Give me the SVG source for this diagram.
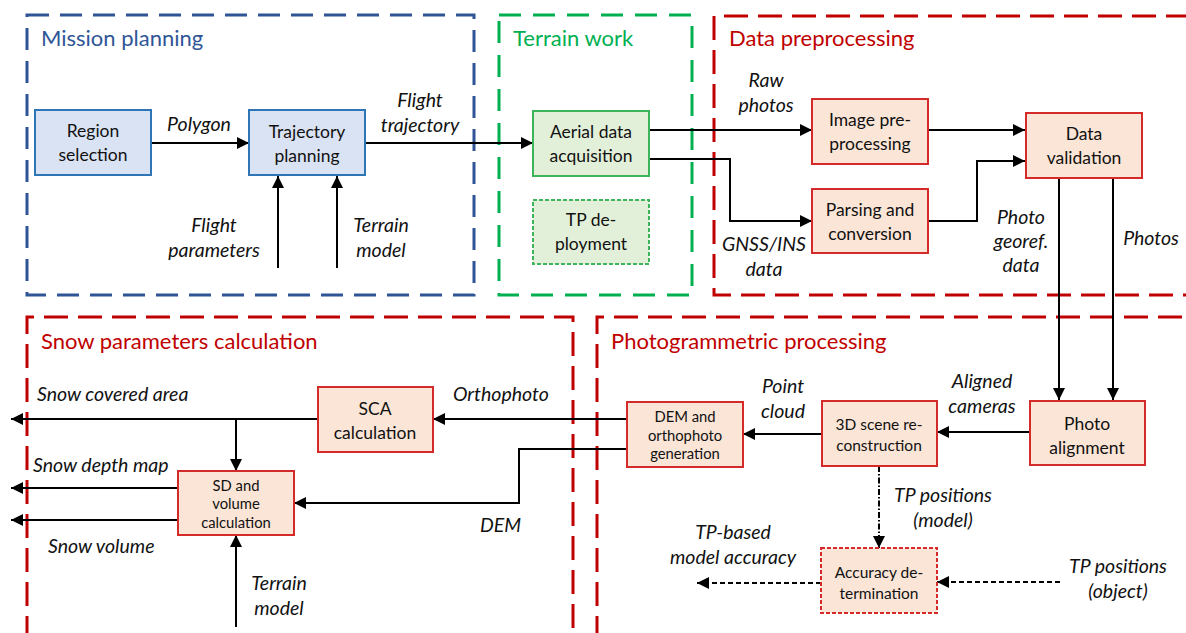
<svg xmlns="http://www.w3.org/2000/svg" width="1186" height="633" viewBox="0 0 1186 633">
<defs>
<style>
.grp{fill:none;stroke-width:3}
.blueg{stroke:#2F5597;stroke-dasharray:22 11}
.greeng{stroke:#00B050;stroke-dasharray:22 12}
.redg{stroke:#C00000;stroke-dasharray:24 10}
.title{font-family:Lato,"Liberation Sans",sans-serif;font-size:22px}
.bbox{fill:#DAE3F3;stroke:#2E75B6;stroke-width:2}
.gbox{fill:#E2F0D9;stroke:#3DB45A;stroke-width:2}
.rbox{fill:#FBE5D6;stroke:#D42A2A;stroke-width:2}
.t{font-family:Lato,"Liberation Sans",sans-serif;font-size:17.5px;fill:#111;text-anchor:middle}
.tm{font-family:Lato,"Liberation Sans",sans-serif;font-size:15.5px;fill:#111;text-anchor:middle}
.ts{font-family:Lato,"Liberation Sans",sans-serif;font-size:14.8px;fill:#111;text-anchor:middle}
.lab{font-family:Lato,"Liberation Sans",sans-serif;font-size:19.5px;font-style:italic;fill:#111}
.c{text-anchor:middle}
.ln{fill:none;stroke:#000;stroke-width:2}
.dsh{stroke-dasharray:5 3}
.dd{stroke-dasharray:6 2 1.5 2}
</style>
<marker id="ah" markerUnits="userSpaceOnUse" markerWidth="12" markerHeight="12" viewBox="0 0 12 12" refX="12" refY="6" orient="auto">
<path d="M0,0 L12,6 L0,12 Z" fill="#000"/>
</marker>
</defs>
<rect width="1186" height="633" fill="#fff"/>

<g id="group-mission">
<rect class="grp blueg" x="27" y="15" width="447" height="280"/>
<text class="title" x="41" y="46" fill="#2F5597">Mission planning</text>
</g>
<g id="group-terrain">
<rect class="grp greeng" x="499" y="15" width="193" height="280"/>
<text class="title" x="513" y="46" fill="#00B050">Terrain work</text>
</g>
<g id="group-preproc">
<path class="grp redg" d="M1190,16 H714 V295 H1190"/>
<text class="title" x="729" y="46" fill="#C00000">Data preprocessing</text>
</g>
<g id="group-snow">
<path class="grp redg" d="M27,640 V317 H573 V640"/>
<text class="title" x="41" y="349" fill="#C00000">Snow parameters calculation</text>
</g>
<g id="group-photogram">
<path class="grp redg" d="M597,640 V317 H1190"/>
<text class="title" x="611" y="349" fill="#C00000">Photogrammetric processing</text>
</g>

<g id="connectors">
<line class="ln" x1="151" y1="143" x2="249" y2="143" marker-end="url(#ah)"/>
<line class="ln" x1="365" y1="143" x2="533" y2="143" marker-end="url(#ah)"/>
<line class="ln" x1="278" y1="268" x2="278" y2="176" marker-end="url(#ah)"/>
<line class="ln" x1="337" y1="268" x2="337" y2="176" marker-end="url(#ah)"/>
<line class="ln" x1="649" y1="130" x2="812" y2="130" marker-end="url(#ah)"/>
<path class="ln" d="M649,159 H730 V221 H812" marker-end="url(#ah)"/>
<line class="ln" x1="928" y1="130" x2="1025" y2="130" marker-end="url(#ah)"/>
<path class="ln" d="M928,221 H977 V161 H1025" marker-end="url(#ah)"/>
<line class="ln" x1="1059" y1="178" x2="1059" y2="400" marker-end="url(#ah)"/>
<line class="ln" x1="1113" y1="178" x2="1113" y2="400" marker-end="url(#ah)"/>
<line class="ln" x1="1030" y1="432" x2="937" y2="432" marker-end="url(#ah)"/>
<line class="ln" x1="822" y1="434" x2="743" y2="434" marker-end="url(#ah)"/>
<line class="ln dd" x1="879" y1="466" x2="879" y2="548" marker-end="url(#ah)"/>
<line class="ln dsh" x1="821" y1="583" x2="697" y2="583" marker-end="url(#ah)"/>
<line class="ln dsh" x1="1060" y1="582" x2="937" y2="582" marker-end="url(#ah)"/>
<line class="ln" x1="627" y1="419" x2="433" y2="419" marker-end="url(#ah)"/>
<path class="ln" d="M627,449 H519 V503 H294" marker-end="url(#ah)"/>
<line class="ln" x1="317" y1="419" x2="11" y2="419" marker-end="url(#ah)"/>
<line class="ln" x1="236" y1="419" x2="236" y2="471" marker-end="url(#ah)"/>
<line class="ln" x1="178" y1="488" x2="11" y2="488" marker-end="url(#ah)"/>
<line class="ln" x1="178" y1="520" x2="11" y2="520" marker-end="url(#ah)"/>
<line class="ln" x1="236" y1="627" x2="236" y2="535" marker-end="url(#ah)"/>
</g>

<g id="connector-labels">
<text class="lab c" x="199" y="131">Polygon</text>
<text class="lab c" x="420" y="107">Flight</text>
<text class="lab c" x="420" y="132">trajectory</text>
<text class="lab c" x="214" y="232">Flight</text>
<text class="lab c" x="214" y="257">parameters</text>
<text class="lab c" x="381" y="232">Terrain</text>
<text class="lab c" x="381" y="257">model</text>
<text class="lab c" x="766" y="87">Raw</text>
<text class="lab c" x="766" y="112">photos</text>
<text class="lab c" x="764" y="251">GNSS/INS</text>
<text class="lab c" x="764" y="276">data</text>
<text class="lab c" x="1021" y="224">Photo</text>
<text class="lab c" x="1021" y="248">georef.</text>
<text class="lab c" x="1021" y="272">data</text>
<text class="lab c" x="1151" y="245">Photos</text>
<text class="lab c" x="783" y="393">Point</text>
<text class="lab c" x="783" y="418">cloud</text>
<text class="lab c" x="982" y="388">Aligned</text>
<text class="lab c" x="982" y="413">cameras</text>
<text class="lab c" x="943" y="502">TP positions</text>
<text class="lab c" x="943" y="527">(model)</text>
<text class="lab c" x="733" y="539">TP-based</text>
<text class="lab c" x="733" y="564">model accuracy</text>
<text class="lab c" x="1118" y="573">TP positions</text>
<text class="lab c" x="1118" y="598">(object)</text>
<text class="lab" x="37" y="401">Snow covered area</text>
<text class="lab" x="453" y="401">Orthophoto</text>
<text class="lab" x="33" y="472">Snow depth map</text>
<text class="lab" x="48" y="553">Snow volume</text>
<text class="lab" x="480" y="532">DEM</text>
<text class="lab c" x="279" y="590">Terrain</text>
<text class="lab c" x="279" y="615">model</text>
</g>

<g id="node-region">
<rect class="bbox" x="35" y="110" width="116" height="65"/>
<text class="t" x="93" y="137">Region</text>
<text class="t" x="93" y="161">selection</text>
</g>
<g id="node-trajectory">
<rect class="bbox" x="249" y="110" width="116" height="65"/>
<text class="t" x="307" y="138">Trajectory</text>
<text class="t" x="307" y="162">planning</text>
</g>
<g id="node-aerial">
<rect class="gbox" x="533" y="111" width="116" height="65"/>
<text class="t" x="591" y="138">Aerial data</text>
<text class="t" x="591" y="162">acquisition</text>
</g>
<g id="node-tp">
<rect class="gbox" x="533" y="200" width="116" height="64" stroke-dasharray="4 2" stroke-width="1.5"/>
<text class="t" x="591" y="226">TP de-</text>
<text class="t" x="591" y="250">ployment</text>
</g>
<g id="node-imgpre">
<rect class="rbox" x="812" y="99" width="116" height="65"/>
<text class="t" x="870" y="126">Image pre-</text>
<text class="t" x="870" y="150">processing</text>
</g>
<g id="node-parsing">
<rect class="rbox" x="812" y="189" width="116" height="64"/>
<text class="t" x="870" y="216">Parsing and</text>
<text class="t" x="870" y="240">conversion</text>
</g>
<g id="node-validation">
<rect class="rbox" x="1026" y="113" width="116" height="65"/>
<text class="t" x="1084" y="140">Data</text>
<text class="t" x="1084" y="164">validation</text>
</g>
<g id="node-photoalign">
<rect class="rbox" x="1030" y="401" width="115" height="64"/>
<text class="t" x="1087" y="430">Photo</text>
<text class="t" x="1087" y="454">alignment</text>
</g>
<g id="node-3d">
<rect class="rbox" x="822" y="401" width="115" height="65"/>
<text class="tm" x="879" y="430">3D scene re-</text>
<text class="tm" x="879" y="451">construction</text>
</g>
<g id="node-dem">
<rect class="rbox" x="627" y="402" width="116" height="65"/>
<text class="ts" x="685" y="422">DEM and</text>
<text class="ts" x="685" y="441">orthophoto</text>
<text class="ts" x="685" y="459">generation</text>
</g>
<g id="node-accuracy">
<rect class="rbox" x="821" y="548" width="116" height="65" stroke-dasharray="4 2" stroke-width="1.5"/>
<text class="tm" x="879" y="578">Accuracy de-</text>
<text class="tm" x="879" y="599">termination</text>
</g>
<g id="node-sca">
<rect class="rbox" x="318" y="387" width="115" height="65"/>
<text class="t" x="375" y="415">SCA</text>
<text class="t" x="375" y="439">calculation</text>
</g>
<g id="node-sd">
<rect class="rbox" x="178" y="471" width="116" height="64"/>
<text class="ts" x="236" y="491">SD and</text>
<text class="ts" x="236" y="509">volume</text>
<text class="ts" x="236" y="528">calculation</text>
</g>
</svg>
